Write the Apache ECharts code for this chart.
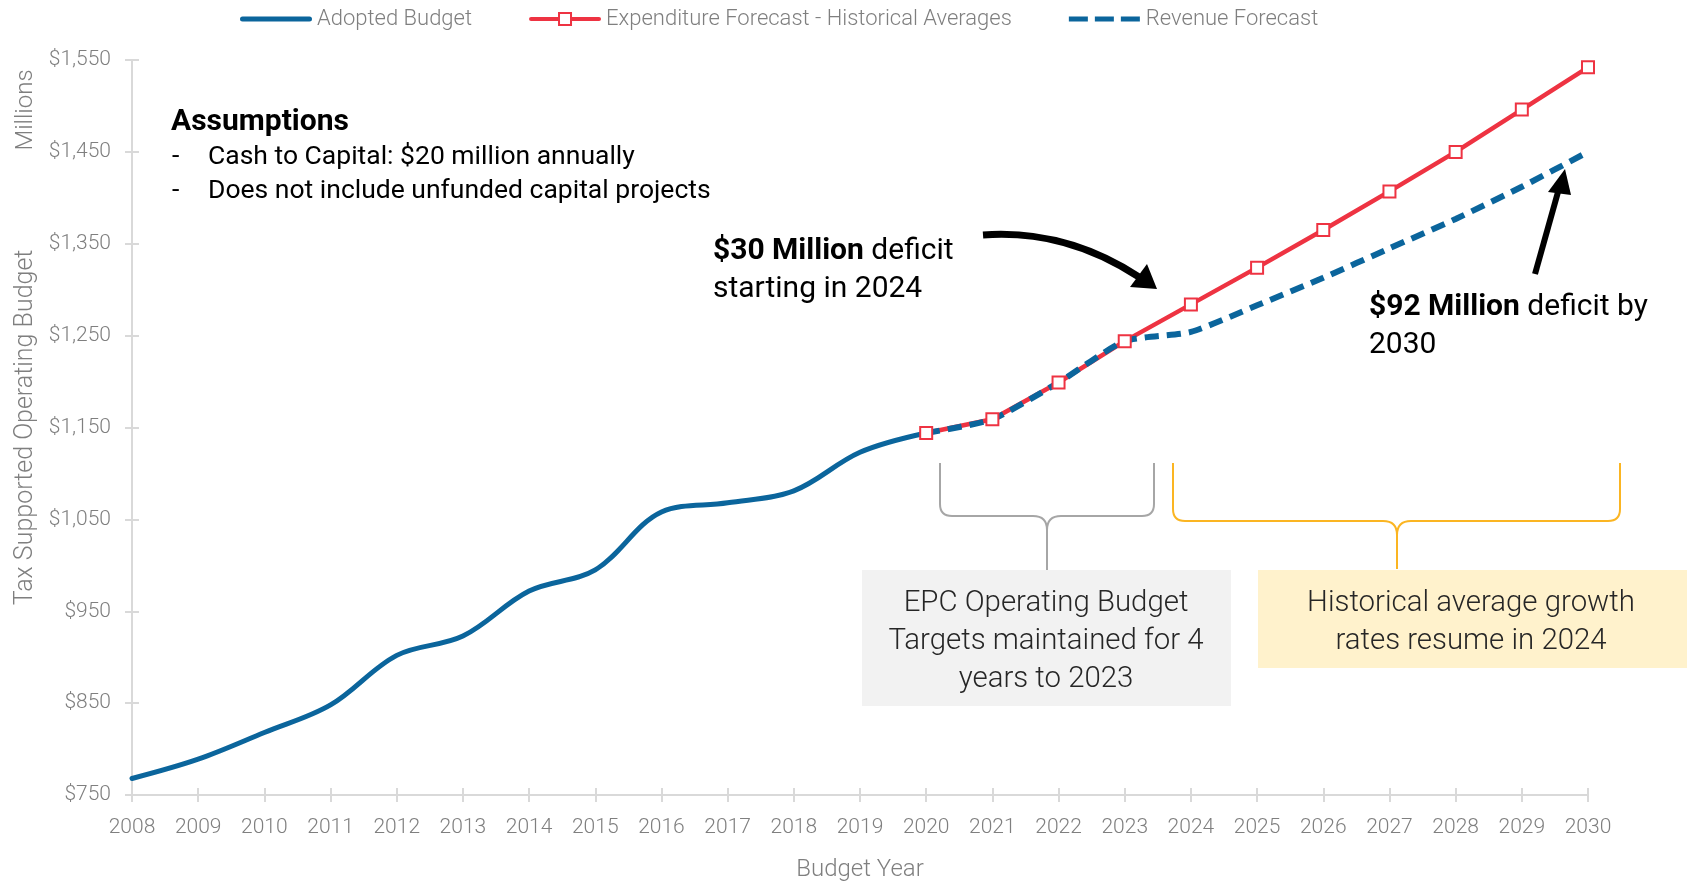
<!DOCTYPE html>
<html><head><meta charset="utf-8">
<script src="https://cdn.jsdelivr.net/npm/echarts@6/dist/echarts.min.js"></script>
<style>html,body{margin:0;padding:0;background:#fff}#c{width:1687px;height:884px}</style>
</head><body><div id="c"></div>
<script>
// ---------- data ----------
const years = ['2008','2009','2010','2011','2012','2013','2014','2015','2016','2017','2018','2019','2020','2021','2022','2023','2024','2025','2026','2027','2028','2029','2030'];
const adoptedBudget = [768, 789, 818, 848, 902, 923, 972, 995, 1058, 1068, 1081, 1123, 1144, null, null, null, null, null, null, null, null, null, null];
const expenditureForecast = [null, null, null, null, null, null, null, null, null, null, null, null, 1144, 1159, 1199, 1244, 1284, 1324, 1365, 1407, 1450, 1496, 1542];
const revenueForecast = [null, null, null, null, null, null, null, null, null, null, null, null, 1144, 1159, 1199, 1244, 1254, 1283, 1313, 1345, 1377, 1412, 1450];
const seriesNames = ['Adopted Budget', 'Expenditure Forecast - Historical Averages', 'Revenue Forecast'];
const yMin = 750, yMax = 1550, yStep = 100;

// ---------- style ----------
const FONT = 'Roboto, "Noto Sans", sans-serif';
const BLUE = '#0b659c', RED = '#ee3342', GREY_TXT = '#7f7f7f', AXIS = '#d9d9d9';

const chart = echarts.init(document.getElementById('c'), null, {renderer: 'canvas'});

function brace(xL, xR, xC, yT, yM, yB, color) {
  const r = 12, rc = 14;
  const st = {stroke: color, lineWidth: 2, fill: null};
  return [
    {type: 'line', shape: {x1: xL, y1: yT, x2: xL, y2: yM - r}, style: st},
    {type: 'bezierCurve', shape: {x1: xL, y1: yM - r, cpx1: xL, cpy1: yM, x2: xL + r, y2: yM}, style: st},
    {type: 'line', shape: {x1: xL + r, y1: yM, x2: xC - rc, y2: yM}, style: st},
    {type: 'bezierCurve', shape: {x1: xC - rc, y1: yM, cpx1: xC, cpy1: yM, x2: xC, y2: yM + rc}, style: st},
    {type: 'line', shape: {x1: xC, y1: yM + rc, x2: xC, y2: yB}, style: st},
    {type: 'bezierCurve', shape: {x1: xC + rc, y1: yM, cpx1: xC, cpy1: yM, x2: xC, y2: yM + rc}, style: st},
    {type: 'line', shape: {x1: xC + rc, y1: yM, x2: xR - r, y2: yM}, style: st},
    {type: 'bezierCurve', shape: {x1: xR - r, y1: yM, cpx1: xR, cpy1: yM, x2: xR, y2: yM - r}, style: st},
    {type: 'line', shape: {x1: xR, y1: yM - r, x2: xR, y2: yT}, style: st}
  ];
}
function txt(x, y, text, size, opts) {
  opts = opts || {};
  return {type: 'text', x: x, y: y, rotation: opts.rotation || 0, z: 10,
    style: {text: text, fontFamily: FONT, fontSize: size, fontWeight: opts.weight || 'normal',
      fill: opts.color || '#000', textAlign: opts.align || 'left', textVerticalAlign: 'middle',
      rich: opts.rich}};
}
const boldRich = {b: {fontFamily: FONT, fontSize: 30, fontWeight: 'bold', fill: '#000'}};
const boxTxt = {align: 'center', weight: 300, color: '#262626'};

const graphics = [].concat(
  [
    {type: 'rect', shape: {x: 862, y: 570, width: 369, height: 136}, style: {fill: '#f2f2f2'}, z: 1},
    {type: 'rect', shape: {x: 1258, y: 570, width: 429, height: 98}, style: {fill: '#fff2cc'}, z: 1}
  ],
  brace(940, 1154, 1047, 463, 516, 570, '#a6a6a6'),
  brace(1173, 1620, 1397, 463, 521, 569, '#fbb522'),
  [
    txt(26, 110, 'Millions', 24, {rotation: Math.PI / 2, align: 'center', color: GREY_TXT, weight: 300}),
    txt(171, 122, 'Assumptions', 30, {weight: 'bold'}),
    txt(172, 157, '-', 26.5),
    txt(208, 157, 'Cash to Capital: $20 million annually', 26.5),
    txt(172, 191, '-', 26.5),
    txt(208, 191, 'Does not include unfunded capital projects', 26.5),
    txt(713, 251, '{b|$30 Million} deficit', 30, {rich: boldRich}),
    txt(713, 289, 'starting in 2024', 30),
    txt(1369, 307, '{b|$92 Million} deficit by', 30, {rich: boldRich}),
    txt(1369, 345, '2030', 30),
    txt(1046, 604, 'EPC Operating Budget', 29.4, boxTxt),
    txt(1046, 642, 'Targets maintained for 4', 29.4, boxTxt),
    txt(1046, 680, 'years to 2023', 29.4, boxTxt),
    txt(1471, 604, 'Historical average growth', 29.4, boxTxt),
    txt(1471, 642, 'rates resume in 2024', 29.4, boxTxt),
    // arrows
    {type: 'bezierCurve', z: 10, shape: {x1: 983, y1: 235, cpx1: 1040, cpy1: 231, cpx2: 1090, cpy2: 245, x2: 1139, y2: 277}, style: {stroke: '#000', lineWidth: 7, fill: null}},
    {type: 'polygon', z: 10, shape: {points: [[1157, 289], [1130, 287], [1147, 264]]}, style: {fill: '#000'}},
    {type: 'line', z: 10, shape: {x1: 1535, y1: 274, x2: 1558, y2: 192}, style: {stroke: '#000', lineWidth: 6}},
    {type: 'polygon', z: 10, shape: {points: [[1565, 169], [1548, 192], [1571, 195]]}, style: {fill: '#000'}}
  ]
);

const axisLabelStyle = {fontFamily: FONT, fontSize: 21, fontWeight: 300, color: GREY_TXT};

// legend icons (drawn into a 72 x 14 box)
const iconSolid = 'path://M2.5,4.5 L69.5,4.5 A2.5,2.5 0 0 1 69.5,9.5 L2.5,9.5 A2.5,2.5 0 0 1 2.5,4.5 Z M0,0 L0,0.01 L0.01,0 Z M72,14 L72,13.99 L71.99,14 Z';
const iconDashed = 'path://M0,4.5 L19,4.5 L19,9.5 L0,9.5 Z M26,4.5 L45,4.5 L45,9.5 L26,9.5 Z M52,4.5 L71,4.5 L71,9.5 L52,9.5 Z M0,0 L0,0.01 L0.01,0 Z M72,14 L72,13.99 L71.99,14 Z';
const iconMarker = 'path://M2,5 L29,5 L29,9 L2,9 A2,2 0 0 1 2,5 Z M43,5 L70,5 A2,2 0 0 1 70,9 L43,9 Z M29,0 L43,0 L43,14 L29,14 Z M31,2 L31,12 L41,12 L41,2 Z M0,0 L0,0.01 L0.01,0 Z M72,14 L72,13.99 L71.99,14 Z';

const option = {
  animation: false,
  backgroundColor: '#fff',
  grid: {left: 132, right: 99, top: 60, bottom: 89, containLabel: false, outerBoundsMode: 'none'},
  legend: {
    data: [
      {name: seriesNames[0], icon: iconSolid, itemStyle: {color: BLUE, borderWidth: 0}},
      {name: seriesNames[1], icon: iconMarker, itemStyle: {color: RED, borderWidth: 0}},
      {name: seriesNames[2], icon: iconDashed, itemStyle: {color: BLUE, borderWidth: 0}}
    ],
    left: 235, top: 3, itemWidth: 72, itemHeight: 14, itemGap: 57, symbolKeepAspect: true,
    textStyle: {fontFamily: FONT, fontSize: 22, fontWeight: 300, color: GREY_TXT}
  },
  xAxis: [
    {type: 'category', data: years, boundaryGap: false, position: 'bottom',
     axisLine: {lineStyle: {color: AXIS, width: 2}},
     axisTick: {show: true, length: 7, lineStyle: {color: AXIS, width: 2}},
     axisLabel: Object.assign({margin: 22}, axisLabelStyle),
     splitLine: {show: false},
     name: 'Budget Year', nameLocation: 'middle', nameGap: 63,
     nameTextStyle: {fontFamily: FONT, fontSize: 24, fontWeight: 300, color: GREY_TXT}},
    {type: 'category', data: years, boundaryGap: false, position: 'bottom', offset: 0,
     axisLine: {show: false}, axisLabel: {show: false}, splitLine: {show: false},
     axisTick: {show: true, inside: true, length: 7, lineStyle: {color: AXIS, width: 2}}}
  ],
  yAxis: [
    {type: 'value', min: yMin, max: yMax, interval: yStep, position: 'left',
     axisLine: {show: true, lineStyle: {color: AXIS, width: 2}},
     axisTick: {show: true, length: 7, lineStyle: {color: AXIS, width: 2}},
     axisLabel: Object.assign({margin: 21, formatter: v => '$' + v.toLocaleString('en-US')}, axisLabelStyle),
     splitLine: {show: false},
     name: 'Tax Supported Operating Budget', nameLocation: 'middle', nameGap: 94,
     nameTextStyle: {fontFamily: FONT, fontSize: 25, fontWeight: 300, color: GREY_TXT}},
    {type: 'value', min: yMin, max: yMax, interval: yStep, position: 'left', offset: 0,
     axisLine: {show: false}, axisLabel: {show: false}, splitLine: {show: false},
     axisTick: {show: true, inside: true, length: 7, lineStyle: {color: AXIS, width: 2}}}
  ],
  series: [
    {name: seriesNames[0], type: 'line', data: adoptedBudget, smooth: 0.35, symbol: 'none', showSymbol: false,
     lineStyle: {color: BLUE, width: 5, cap: 'round'}, itemStyle: {color: BLUE}},
    {name: seriesNames[1], type: 'line', data: expenditureForecast, smooth: false, symbol: 'rect', symbolSize: 12,
     lineStyle: {color: RED, width: 4.5, cap: 'round'},
     itemStyle: {color: '#fff', borderColor: RED, borderWidth: 2}},
    {name: seriesNames[2], type: 'line', data: revenueForecast, smooth: 0.2, symbol: 'none', showSymbol: false,
     lineStyle: {color: BLUE, width: 6, type: [14, 8]}, itemStyle: {color: BLUE}}
  ],
  graphic: graphics
};
chart.setOption(option);
</script>
</body></html>
